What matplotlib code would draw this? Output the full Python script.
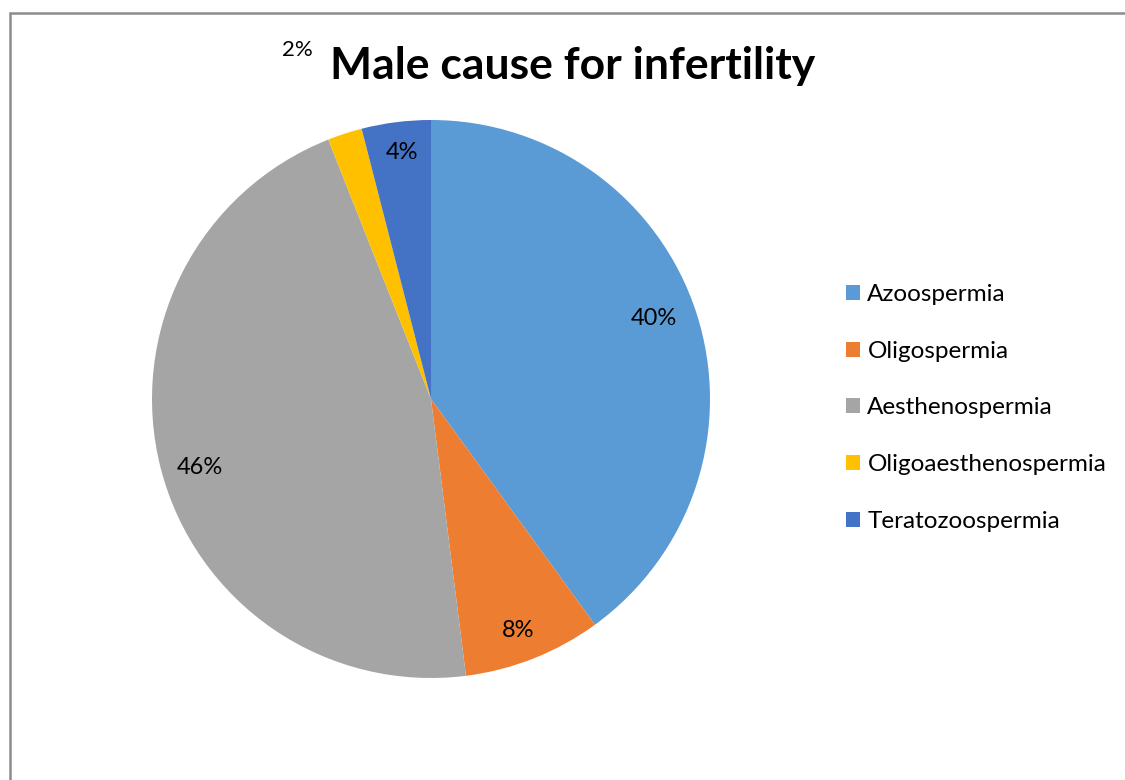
import matplotlib
matplotlib.use('Agg')
import matplotlib.pyplot as plt
import matplotlib.patches as mpatches
import numpy as np

plt.rcParams['font.family'] = ['Lato', 'DejaVu Sans']

causes = ['Azoospermia', 'Oligospermia', 'Aesthenospermia',
          'Oligoaesthenospermia', 'Teratozoospermia']
shares = [40, 8, 46, 2, 4]
colors = ['#5B9BD5', '#ED7D31', '#A5A5A5', '#FFC000', '#4472C4']
title = 'Male cause for infertility'

# where each percentage sits (fraction of radius, angle nudge in degrees)
label_r = [0.85, 0.885, 0.865, 1.34, 0.89]
label_da = [1.9, -1, 2.2, 3, -0.5]

fig = plt.figure(figsize=(11.25, 7.8), dpi=100)
W, H = 1125, 780

# outer frame (only top and left edge visible in the crop)
frame = mpatches.Rectangle((9.5 / W, -0.2), 1.5, 1 - 13 / H + 0.2,
                           transform=fig.transFigure, fill=False,
                           edgecolor='#8c8c8c', linewidth=1.8, clip_on=False)
fig.add_artist(frame)

ax = fig.add_axes([152 / W, 1 - 678 / H, 558 / W, 558 / H])
wedges, _ = ax.pie(shares, colors=colors, startangle=90, counterclock=False,
                   radius=1, wedgeprops=dict(linewidth=0))
ax.set_xlim(-1, 1)
ax.set_ylim(-1, 1)
ax.set_aspect('equal')
ax.axis('off')

for w, v, r, da in zip(wedges, shares, label_r, label_da):
    mid = np.deg2rad((w.theta1 + w.theta2) / 2 + da)
    fs = 16 if r > 1 else 17
    ax.text(r * np.cos(mid), r * np.sin(mid), f'{v}%', ha='center',
            va='center', fontsize=fs, color='#000000', clip_on=False)

fig.text(573 / W, 1 - 79 / H, title, ha='center', va='baseline',
         fontsize=32, fontweight='bold', color='#000000')

handles = [mpatches.Patch(facecolor=c, edgecolor='none') for c in colors]
fig.legend(handles, causes, loc='center left',
           bbox_to_anchor=(846 / W, 1 - 408 / H), frameon=False,
           fontsize=17.5, handlelength=0.58, handleheight=0.58,
           handletextpad=0.3, labelspacing=1.47, borderaxespad=0,
           borderpad=0)

fig.savefig('out.png', dpi=100)
